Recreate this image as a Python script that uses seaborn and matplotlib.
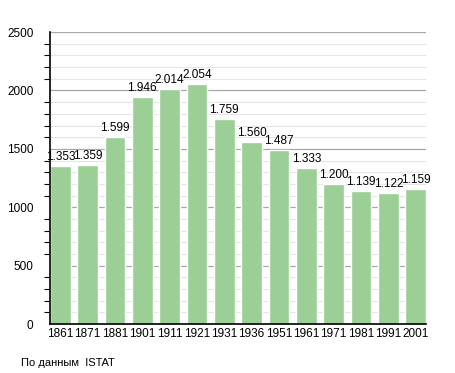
import numpy as np
import pandas as pd
import seaborn as sns
import matplotlib.pyplot as plt
from matplotlib.ticker import MultipleLocator

years = ["1861", "1871", "1881", "1901", "1911", "1921", "1931", "1936",
         "1951", "1961", "1971", "1981", "1991", "2001"]
population = [1353, 1359, 1599, 1946, 2014, 2054, 1759, 1560,
              1487, 1333, 1200, 1139, 1122, 1159]
yticks = [0, 500, 1000, 1500, 2000, 2500]
source_note = "По данным  ISTAT"

sns.set_style("white")
plt.rcParams['font.family'] = ['Liberation Sans', 'DejaVu Sans']
plt.rcParams['text.color'] = 'black'
plt.rcParams['xtick.color'] = 'black'
plt.rcParams['ytick.color'] = 'black'

df = pd.DataFrame({"year": years, "population": population})

fig = plt.figure(figsize=(4.55, 3.73), dpi=100)
ax = fig.add_axes([0.110, 0.131, 0.826, 0.783])

bar_w = 0.75
sns.barplot(data=df, x="year", y="population", color="#9bcf96",
            saturation=1, width=bar_w, ax=ax, zorder=3)

ax.set_ylim(0, 2500)
ax.set_xlim(-bar_w / 2, len(years) - 1 + bar_w / 2)
ax.set_yticks(yticks)
ax.yaxis.set_minor_locator(MultipleLocator(100))
ax.grid(which="minor", axis="y", color="#e6e6e6", linewidth=0.8, zorder=0)
ax.grid(which="major", axis="y", color="#a8a8a8", linewidth=0.9, zorder=0)
ax.set_axisbelow(True)

for side in ["top", "right"]:
    ax.spines[side].set_visible(False)
for side in ["left", "bottom"]:
    ax.spines[side].set_color("black")
    ax.spines[side].set_linewidth(1.2)
    ax.spines[side].set_zorder(5)

ax.tick_params(axis="y", which="major", length=0, labelsize=8.5, pad=12)
ax.tick_params(axis="y", which="minor", length=4, width=0.8, color="black", left=True)
ax.tick_params(axis="x", length=0, labelsize=8.5, pad=3)
ax.set_xlabel("")
ax.set_ylabel("")

for i, v in enumerate(population):
    label = f"{v:,}".replace(",", ".")
    ax.text(i, v + 25, label, ha="center", va="bottom", fontsize=8.5, zorder=4)

fig.text(0.046, 0.018, source_note, fontsize=8)

fig.savefig("out.png", dpi=100)
